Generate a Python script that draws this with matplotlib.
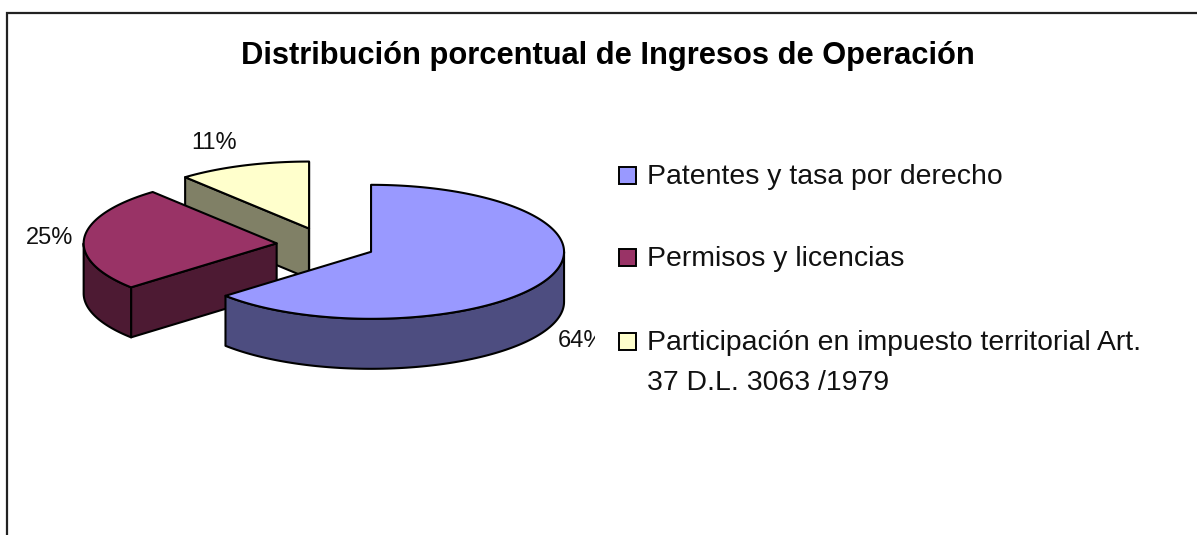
import numpy as np
import matplotlib
matplotlib.use("Agg")
import matplotlib.pyplot as plt
from matplotlib.patches import Polygon, Rectangle

plt.rcParams['font.family'] = ['Liberation Sans', 'DejaVu Sans']

title = "Distribución porcentual de Ingresos de Operación"
categories = ["Patentes y tasa por derecho", "Permisos y licencias",
              "Participación en impuesto territorial Art.\n37 D.L. 3063 /1979"]
values = [63.6, 25.3, 11.1]
value_labels = ["64%", "25%", "11%"]
top_colors = ["#9999FF", "#993366", "#FFFFCC"]
side_colors = ["#4D4D80", "#4D1A33", "#808066"]

W, H = 1197, 535
CX, CY, RX, RY, DEPTH, EXPLODE = 326.0, 244.7, 193.0, 67.0, 50.0, 49.5
EDGE = 1.5

fig = plt.figure(figsize=(W / 100, H / 100), dpi=100, facecolor="white")
ax = fig.add_axes([0, 0, 1, 1])
ax.set_xlim(0, W)
ax.set_ylim(H, 0)
ax.axis("off")

# chart frame: cut by the image on the right and at the bottom
ax.plot([7, 7, W], [H, 13, 13], color="#222222", lw=1.6, solid_joinstyle="miter", zorder=1)


def pt(c, ang, r=1.0):
    a = np.radians(ang)
    return c[0] + r * RX * np.sin(a), c[1] - r * RY * np.cos(a)


fr = np.array(values, dtype=float) / sum(values)
ends = np.cumsum(fr) * 360
starts = ends - fr * 360
slices = []
for i in range(len(values)):
    mid = np.radians((starts[i] + ends[i]) / 2)
    c = (CX + EXPLODE * np.sin(mid), CY - EXPLODE * RY / RX * np.cos(mid))
    slices.append((i, c, starts[i], ends[i]))

# back to front
slices.sort(key=lambda s: s[1][1])
z = 5
for i, c, a0, a1 in slices:
    kw = dict(edgecolor="black", lw=EDGE, joinstyle="round")
    # straight cut walls: only those turned towards the viewer
    visible = []
    if np.sin(np.radians(a0)) < -1e-6:
        visible.append(a0)
    if np.sin(np.radians(a1)) > -1e-6:
        visible.append(a1)
    for ang in visible:
        x, y = pt(c, ang)
        wall = [c, (x, y), (x, y + DEPTH), (c[0], c[1] + DEPTH)]
        ax.add_patch(Polygon(wall, closed=True, facecolor=side_colors[i], zorder=z, **kw))
    # outer rim, only the part facing the viewer
    lo, hi = max(a0, 90), min(a1, 270)
    if hi > lo:
        t = np.linspace(lo, hi, 120)
        xs, ys = pt(c, t)
        rim = np.r_[np.c_[xs, ys], np.c_[xs, ys + DEPTH][::-1]]
        ax.add_patch(Polygon(rim, closed=True, facecolor=side_colors[i], zorder=z + 1, **kw))
    # top face
    t = np.linspace(a0, a1, 240)
    xs, ys = pt(c, t)
    top = np.r_[[c], np.c_[xs, ys]]
    ax.add_patch(Polygon(top, closed=True, facecolor=top_colors[i], zorder=z + 2, **kw))
    z += 3

# value labels
ax.text(558, 341, value_labels[0], fontsize=17, ha="left", va="center", zorder=30, color="#111111")
ax.text(50, 238, value_labels[1], fontsize=17, ha="center", va="center", zorder=30, color="#111111")
ax.text(214, 143, value_labels[2], fontsize=17, ha="center", va="center", zorder=30, color="#111111")

# legend block hides what runs under it
ax.add_patch(Rectangle((595, 150), 590, 260, facecolor="white", edgecolor="none", zorder=40))
rows_y = [175, 257, 341]
for cat, col, y in zip(categories, top_colors, rows_y):
    ax.add_patch(Rectangle((619, y - 8.5), 17, 17, facecolor=col, edgecolor="black", lw=1.4, zorder=41))
    ax.text(647, y - 11, cat, fontsize=20.4, ha="left", va="top", zorder=42,
            color="#111111", linespacing=1.7)

ax.text(608, 56, title, fontsize=22.2, fontweight="bold", ha="center", va="center", zorder=50, color="black")

fig.savefig("out.png", dpi=100, facecolor="white")
